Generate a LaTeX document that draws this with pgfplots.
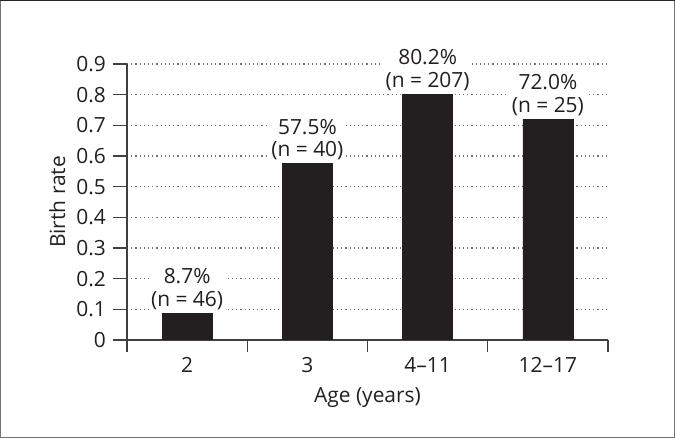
\documentclass[border=0pt]{standalone}
\usepackage{fontspec}
\setmainfont{Open Sans}
\usepackage{pgfplots}
\pgfplotsset{compat=1.18}
\definecolor{barc}{HTML}{231F20}
\definecolor{txt}{HTML}{231F20}
\definecolor{axc}{HTML}{404040}
\newcommand{\fs}{\fontsize{21}{22.5}\selectfont}
\begin{document}
\fs
\begin{tikzpicture}
\useasboundingbox (0,0) rectangle (675bp,438bp);
\begin{axis}[
  at={(127bp,98bp)}, anchor=south west,
  scale only axis, width=481bp, height=276bp,
  xmin=-0.5, xmax=3.5, ymin=0, ymax=0.9,
  axis lines*=left,
  axis line style={axc, line width=1.2bp},
  every tick/.style={axc, line width=1.2bp},
  tick align=outside,
  xtick={0,1,2,3}, xticklabels={2,3,4--11,12--17},
  minor xtick={-0.5,0.5,1.5,2.5,3.5},
  major x tick style={draw=none},
  minor tick length=12bp,
  major tick length=14bp,
  ytick={0,0.1,0.2,0.3,0.4,0.5,0.6,0.7,0.8,0.9},
  yticklabels={0,0.1,0.2,0.3,0.4,0.5,0.6,0.7,0.8,0.9},
  ymajorgrids,
  grid style={dash pattern=on 1.2bp off 3bp, line width=1.1bp, black!55},
  /pgf/number format/assume math mode=true,
  ticklabel style={font=\fs, text=txt},
  yticklabel style={xshift=0bp},
  xticklabel style={yshift=4bp},
  every axis x label/.style={at={(axis description cs:0.5,0)}, yshift=-62bp, anchor=base, font=\fs, text=txt},
  every axis y label/.style={at={(axis description cs:0,0.5)}, xshift=-62bp, anchor=base, rotate=90, font=\fs, text=txt},
  xlabel={Age (years)},
  ylabel={Birth rate},
  ybar, bar width=0.416,
  point meta=explicit symbolic,
  nodes near coords,
  every node near coord/.style={anchor=south, align=center, fill=white, inner sep=2.5bp, yshift=1bp, font=\fs, text=txt},
]
\addplot[fill=barc, draw=barc] coordinates {
  (0,0.087) [8.7\%\\(n = 46)]
  (1,0.575) [57.5\%\\(n = 40)]
  (2,0.802) [80.2\%\\(n = 207)]
  (3,0.720) [72.0\%\\(n = 25)]
};
\end{axis}
\draw[black!55, line width=1.2bp] (0.6bp,437bp) -- (0.6bp,0.6bp) -- (674.4bp,0.6bp) -- (674.4bp,437bp);
\draw[black!85, line width=1.2bp] (0bp,437.4bp) -- (675bp,437.4bp);
\end{tikzpicture}
\end{document}
